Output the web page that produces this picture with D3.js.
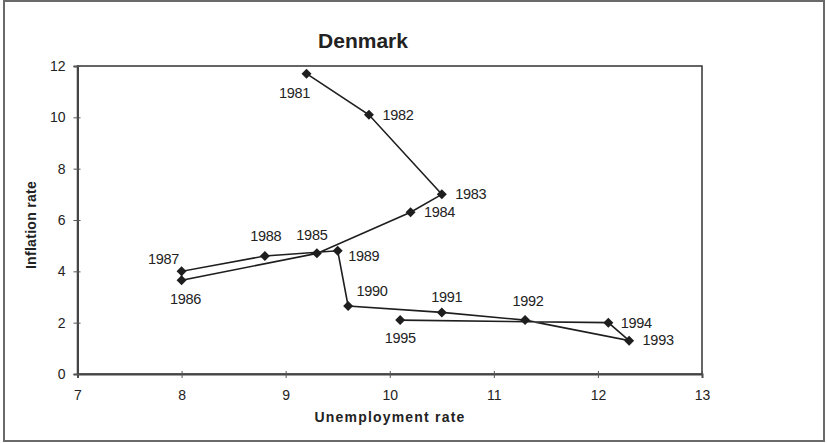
<!DOCTYPE html>
<html>
<head>
<meta charset="utf-8">
<script src="https://cdn.jsdelivr.net/npm/d3@7"></script>
<style>
	body { margin: 0; background: #fff; }
	text { font-family: Arial, "Liberation Sans", sans-serif; fill: #222; }
</style>
</head>
<body>
<div id="chart"></div>
<script>
// Denmark: unemployment vs inflation, 1981-1995
var years = [1981, 1982, 1983, 1984, 1985, 1986, 1987, 1988, 1989, 1990, 1991, 1992, 1993, 1994, 1995];
var unemployment = [9.2, 9.8, 10.5, 10.2, 9.3, 8.0, 8.0, 8.8, 9.5, 9.6, 10.5, 11.3, 12.3, 12.1, 10.1];
var inflation = [11.7, 10.1, 7.0, 6.3, 4.7, 3.65, 4.0, 4.6, 4.8, 2.65, 2.4, 2.1, 1.3, 2.0, 2.1];
var xTicks = [7, 8, 9, 10, 11, 12, 13];
var yTicks = [0, 2, 4, 6, 8, 10, 12];

// where each year label sits around its marker (center offset in px)
var labelOffset = {
	1981: [-12, 19], 1982: [29, 0], 1983: [29, -1], 1984: [29, -1],
	1985: [-5, -19], 1986: [4, 18], 1987: [-18, -13], 1988: [1, -20],
	1989: [26, 5], 1990: [24, -15], 1991: [5, -16], 1992: [3, -19],
	1993: [29, -1], 1994: [28, 0], 1995: [0, 18]
};

var width = 827;
var height = 443;
var plot = { left: 77.5, right: 702, top: 66, bottom: 374 };

var svg = d3.select("#chart")
	.append("svg")
	.attr("width", width)
	.attr("height", height);

// outer frame
svg.append("rect")
	.attr("x", 4).attr("y", 1)
	.attr("width", 820).attr("height", 440)
	.attr("fill", "none")
	.attr("stroke", "#6a6a6a")
	.attr("stroke-width", 2);

var x = d3.scaleLinear().domain([7, 13]).range([plot.left, plot.right]);
var y = d3.scaleLinear().domain([0, 12]).range([plot.bottom, plot.top]);

// plot box
svg.append("rect")
	.attr("x", plot.left).attr("y", plot.top)
	.attr("width", plot.right - plot.left)
	.attr("height", plot.bottom - plot.top)
	.attr("fill", "none")
	.attr("stroke", "#333")
	.attr("stroke-width", 1.5);

var xAxis = svg.append("g")
	.attr("transform", "translate(0," + plot.bottom + ")")
	.call(d3.axisBottom(x).tickValues(xTicks).tickFormat(d3.format("d")).tickSize(4).tickPadding(12));
var yAxis = svg.append("g")
	.attr("transform", "translate(" + plot.left + ",0)")
	.call(d3.axisLeft(y).tickValues(yTicks).tickFormat(d3.format("d")).tickSize(4).tickPadding(8));

[xAxis, yAxis].forEach(function(a) {
	a.select(".domain").attr("stroke", "#444").attr("stroke-width", 2);
	a.selectAll(".tick line").attr("stroke", "#555");
	a.selectAll(".tick text")
		.style("font-size", "14px")
		.attr("fill", "#222");
});
// ticks cross the axis line
xAxis.selectAll(".tick line").attr("y1", -3);
yAxis.selectAll(".tick line").attr("x1", 3);

var points = years.map(function(yr, i) {
	return { year: yr, u: unemployment[i], p: inflation[i] };
});

var line = d3.line()
	.x(function(d) { return x(d.u); })
	.y(function(d) { return y(d.p); });

svg.append("path")
	.datum(points)
	.attr("d", line)
	.attr("fill", "none")
	.attr("stroke", "#1e1e1e")
	.attr("stroke-width", 1.6);

var diamond = d3.symbol().type(d3.symbolSquare).size(50);
svg.selectAll(".marker")
	.data(points)
	.enter()
	.append("path")
	.attr("class", "marker")
	.attr("d", diamond)
	.attr("fill", "#1e1e1e")
	.attr("transform", function(d) {
		return "translate(" + x(d.u) + "," + y(d.p) + ") rotate(45)";
	});

svg.selectAll(".yr")
	.data(points)
	.enter()
	.append("text")
	.attr("class", "yr")
	.attr("x", function(d) { return x(d.u) + labelOffset[d.year][0]; })
	.attr("y", function(d) { return y(d.p) + labelOffset[d.year][1]; })
	.attr("dy", "0.36em")
	.attr("text-anchor", "middle")
	.style("font-size", "14.5px")
	.style("letter-spacing", "-0.3px")
	.text(function(d) { return d.year; });

// titles
svg.append("text")
	.attr("x", 363).attr("y", 48)
	.attr("text-anchor", "middle")
	.style("font-size", "21px")
	.style("font-weight", "bold")
	.text("Denmark");

svg.append("text")
	.attr("x", 390).attr("y", 422)
	.attr("text-anchor", "middle")
	.style("font-size", "14px")
	.style("font-weight", "bold")
	.style("letter-spacing", "1.2px")
	.text("Unemployment rate");

svg.append("text")
	.attr("transform", "translate(35.5,225) rotate(-90)")
	.attr("text-anchor", "middle")
	.style("font-size", "14px")
	.style("font-weight", "bold")
	.style("letter-spacing", "0.3px")
	.text("Inflation rate");
</script>
</body>
</html>
